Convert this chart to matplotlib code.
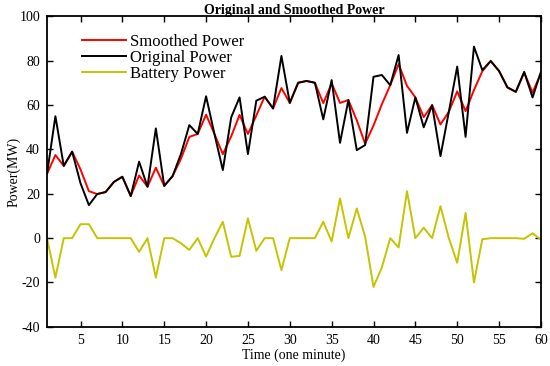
import numpy as np
import matplotlib
matplotlib.use("Agg")
import matplotlib.pyplot as plt

plt.rcParams["font.family"] = ["Liberation Serif", "DejaVu Serif"]
plt.rcParams["axes.unicode_minus"] = False

minutes = np.arange(1, 61)
original = [29, 55, 32.6, 39, 24.8, 14.9, 19.9, 20.8, 25.4, 27.7,
            19, 34.5, 23.2, 49.5, 23.6, 28, 38, 51, 47, 64,
            47, 30.7, 54.5, 63.5, 37.9, 62, 63.8, 58.5, 82.2, 61,
            70.1, 70.9, 70.1, 53.6, 71.3, 43, 62.3, 39.7, 42, 72.8,
            73.6, 69, 82.6, 47.5, 63.5, 50, 60, 37, 57, 77.4,
            45.7, 86.4, 75.8, 79.9, 75.4, 68, 66, 75, 63.5, 75]
smoothed = [29, 37.5, 32.6, 39, 31, 21.2, 19.9, 20.8, 25.4, 27.7,
            19, 28.3, 23.2, 31.8, 23.6, 28, 35.8, 45.7, 47, 55.7,
            47, 37.9, 45.9, 55.6, 47, 55.3, 63.8, 58.5, 67.7, 61,
            70.1, 70.9, 70.1, 60.9, 69.8, 61, 62.3, 53.2, 42.6, 50.8,
            60.4, 69, 78.5, 68.7, 63.5, 54.6, 60, 51.3, 57, 66.2,
            57.3, 66.8, 75.3, 79.9, 75.4, 68, 66, 74.7, 65.7, 74.4]
battery = [0, -17.8, 0, 0, 6.3, 6.3, 0, 0, 0, 0,
           0, -6.2, 0, -17.8, 0, 0, -2.3, -5.3, 0, -8.3,
           0, 7.4, -8.4, -8, 8.9, -5.7, 0, 0, -14.4, 0,
           0, 0, 0, 7.4, -1.5, 17.9, 0, 13.4, 0.7, -22,
           -13.2, 0, -4.2, 21.2, 0, 4.7, 0, 14.4, 0, -11.1,
           11.4, -20, -0.5, 0, 0, 0, 0, -0.3, 2.2, -0.7]

fig = plt.figure(figsize=(5.5, 3.66), dpi=100)
ax = fig.add_axes([0.0855, 0.107, 0.898, 0.848])

ax.plot(minutes, smoothed, color="#ff0000", lw=1.4, label="Smoothed Power")
ax.plot(minutes, original, color="black", lw=1.4, label="Original Power")
ax.plot(minutes, battery, color="#c4c400", lw=1.4, label="Battery Power")

ax.set_xlim(1, 60)
ax.set_ylim(-40, 100)
ax.set_xticks(np.arange(5, 61, 5))
ax.set_yticks(np.arange(-40, 101, 20))
ax.tick_params(direction="in", length=4, width=1, top=True, right=True,
               labelsize=10, pad=5)
for sp in ax.spines.values():
    sp.set_linewidth(1.3)

ax.set_xlabel("Time (one minute)", fontsize=10, labelpad=1)
ax.set_ylabel("Power(MW)", fontsize=10, labelpad=-1)
ax.set_title("Original and Smoothed Power", fontsize=10, fontweight="bold", pad=2)

ax.legend(loc="upper left", bbox_to_anchor=(0.058, 0.965), frameon=False,
          fontsize=12, handlelength=2.6, handletextpad=0.25,
          labelspacing=0.0, borderaxespad=0)

fig.savefig("out.png", dpi=100)
